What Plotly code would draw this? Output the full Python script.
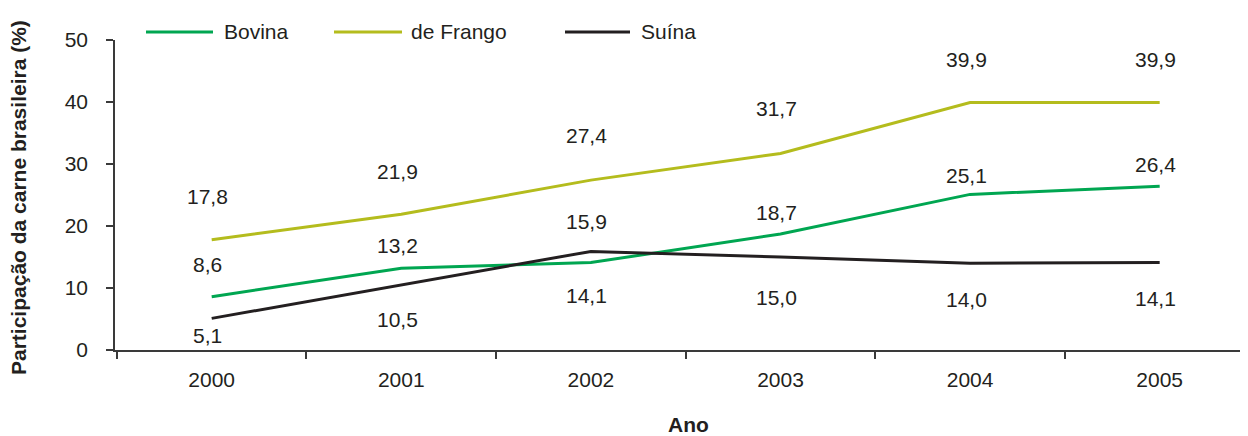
import plotly.graph_objects as go

years = ["2000", "2001", "2002", "2003", "2004", "2005"]
bovina = [8.6, 13.2, 14.1, 18.7, 25.1, 26.4]
frango = [17.8, 21.9, 27.4, 31.7, 39.9, 39.9]
suina = [5.1, 10.5, 15.9, 15.0, 14.0, 14.1]
series_names = ["Bovina", "de Frango", "Suína"]
y_ticks = [0, 10, 20, 30, 40, 50]

colors = ["#00a651", "#b4bc1d", "#231f20"]
# label vertical offsets in pixels (positive = above point)
label_shift = [
    [32, 23, -33, 22, 19, 22],
    [43, 43, 45, 45, 43, 43],
    [-17, -35, 30, -40, -36, -36],
]

OFF = 8  # page body margin
W, H = 1248 - OFF, 436 - OFF
ml, mr, mt, mb = 115 - OFF, 3, 40 - OFF, 86
pw = W - ml - mr
ph = H - mt - mb
font = "Liberation Sans, Arial, Helvetica, sans-serif"
txt = "#231f20"
FS = 21

x_idx = list(range(len(years)))
bounds = [i - 0.5 for i in range(len(years) + 1)]

fig = go.Figure()
all_series = [bovina, frango, suina]
for name, vals, col in zip(series_names, all_series, colors):
    fig.add_trace(go.Scatter(x=x_idx, y=vals, mode="lines", name=name,
                             line=dict(color=col, width=3), showlegend=False,
                             hovertemplate="%{y}<extra>" + name + "</extra>"))

annotations = []
for vals, shifts in zip(all_series, label_shift):
    for xi, v, s in zip(x_idx, vals, shifts):
        annotations.append(dict(x=xi, y=v, xref="x", yref="y",
                                text=f"{v:.1f}".replace(".", ","),
                                showarrow=False, yshift=s, xshift=-4,
                                font=dict(size=FS, color=txt, family=font)))

# custom legend (reference pixel coordinates -> paper)
def px_x(p):
    return (p - OFF - ml) / pw

def px_y(p):
    return (H - mb - (p - OFF)) / ph

shapes = []
legend_items = [(146, 213, 222), (334, 402, 409), (565, 630, 639)]
for (x0, x1, xt), name, col in zip(legend_items, series_names, colors):
    shapes.append(dict(type="line", xref="paper", yref="paper",
                       x0=px_x(x0), x1=px_x(x1), y0=px_y(32), y1=px_y(32),
                       line=dict(color=col, width=3)))
    annotations.append(dict(x=px_x(xt), y=px_y(32), xref="paper", yref="paper",
                            text=name, showarrow=False, xanchor="left", yanchor="middle",
                            font=dict(size=FS, color=txt, family=font)))

annotations.append(dict(x=px_x(18), y=px_y(198), xref="paper", yref="paper",
                        text="<b>Participação da carne brasileira (%)</b>", textangle=-90,
                        showarrow=False, xanchor="center", yanchor="middle",
                        font=dict(size=FS, color=txt, family=font)))
annotations.append(dict(x=px_x(688), y=px_y(424), xref="paper", yref="paper",
                        text="<b>Ano</b>", showarrow=False, xanchor="center", yanchor="middle",
                        font=dict(size=FS, color=txt, family=font)))

fig.update_layout(
    width=W, height=H,
    margin=dict(l=ml, r=mr, t=mt, b=mb, pad=0),
    paper_bgcolor="white", plot_bgcolor="white",
    font=dict(family=font, size=FS, color=txt),
    annotations=annotations, shapes=shapes,
    showlegend=False,
    xaxis=dict(range=[-0.51, 5.45], tickvals=x_idx, ticktext=years,
               ticks="", showline=True, linecolor="#3a3a3a", linewidth=1.5,
               showgrid=False, zeroline=False, ticklabelstandoff=10,
               minor=dict(tickvals=bounds, ticks="outside", ticklen=7,
                          tickwidth=1.5, tickcolor="#3a3a3a", showgrid=False),
               tickfont=dict(size=FS, color=txt, family=font)),
    yaxis=dict(range=[0, 50], tickvals=y_ticks, ticks="outside", ticklen=7,
               tickwidth=1.5, tickcolor="#3a3a3a",
               showline=True, linecolor="#3a3a3a", linewidth=1.5,
               showgrid=False, zeroline=False, ticklabelstandoff=14,
               tickfont=dict(size=FS, color=txt, family=font)),
)

fig.write_html("out.html")
